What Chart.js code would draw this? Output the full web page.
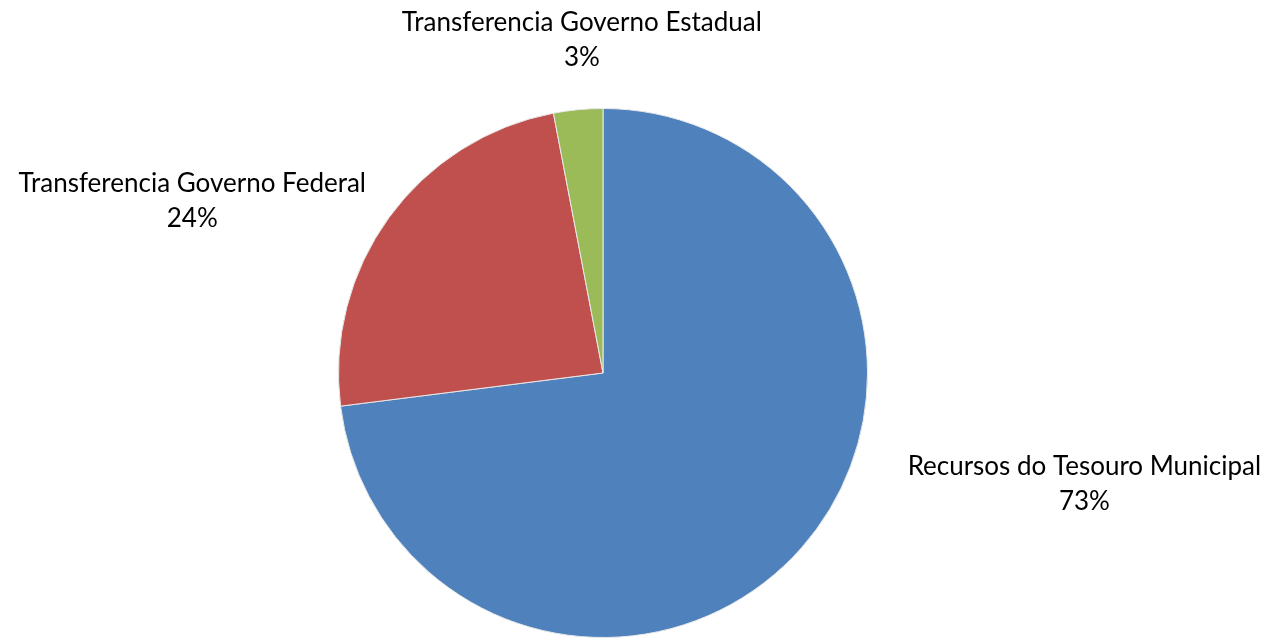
<!DOCTYPE html>
<html>
<head>
<meta charset="utf-8">
<script src="https://cdn.jsdelivr.net/npm/chart.js@4/dist/chart.umd.min.js"></script>
<style>
  html, body { margin: 0; padding: 0; background: #fff; }
  #wrap { width: 1273px; height: 639px; }
</style>
</head>
<body>
<div id="wrap"><canvas id="chart"></canvas></div>
<script>
const categories = ['Recursos do Tesouro Municipal', 'Transferencia Governo Federal', 'Transferencia Governo Estadual'];
const shares = [73, 24, 3];
const colors = ['#4F81BD', '#C0504D', '#9BBB59'];

// label anchor relative to pie centre, in units of radius
const labelOffsets = [[1.82, 0.42], [-1.553, -0.65], [-0.08, -1.26]];

const outsideLabels = {
  id: 'outsideLabels',
  afterDatasetsDraw(chart) {
    const ctx = chart.ctx;
    const meta = chart.getDatasetMeta(0);
    ctx.save();
    ctx.font = '26px Lato';
    ctx.fillStyle = '#000';
    ctx.textAlign = 'center';
    ctx.textBaseline = 'middle';
    meta.data.forEach((arc, i) => {
      const r = arc.outerRadius;
      const x = arc.x + labelOffsets[i][0] * r;
      const y = arc.y + labelOffsets[i][1] * r;
      ctx.fillText(categories[i], x, y - 17);
      ctx.fillText(shares[i] + '%', x, y + 18);
    });
    ctx.restore();
  }
};

new Chart(document.getElementById('chart'), {
  type: 'pie',
  data: {
    labels: categories,
    datasets: [{
      data: shares,
      backgroundColor: colors,
      borderColor: '#e8e8e8',
      borderWidth: 1
    }]
  },
  options: {
    responsive: true,
    maintainAspectRatio: false,
    animation: false,
    layout: { padding: { top: 108, bottom: 1, left: 338, right: 405 } },
    plugins: {
      legend: { display: false },
      tooltip: { enabled: false }
    }
  },
  plugins: [outsideLabels]
});
</script>
</body>
</html>
